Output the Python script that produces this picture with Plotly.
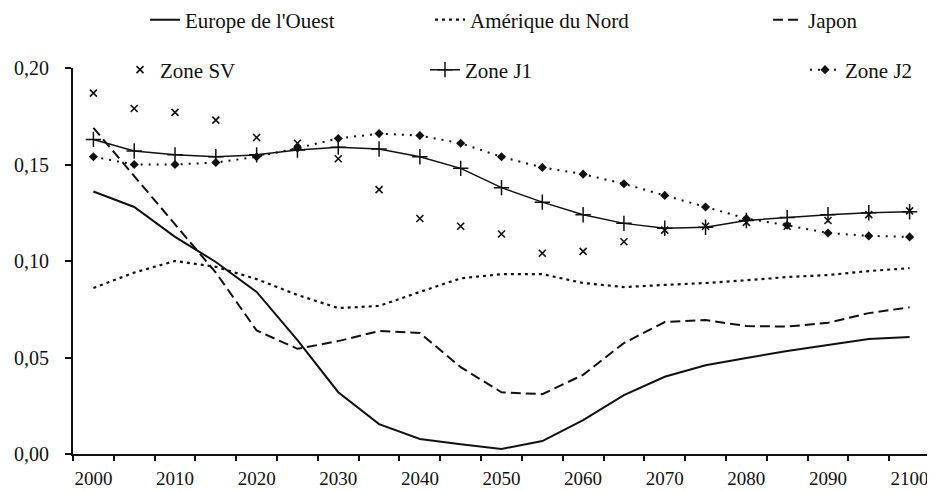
import plotly.graph_objects as go

years = list(range(2000, 2101, 5))

europe = [0.136, 0.128, 0.1125, 0.0995, 0.084, 0.059, 0.032, 0.0155, 0.0078, 0.005, 0.0026,
          0.0067, 0.0176, 0.0305, 0.040, 0.046, 0.0497, 0.0534, 0.0565, 0.0596, 0.0606]
amerique = [0.086, 0.094, 0.100, 0.097, 0.0906, 0.0824, 0.0756, 0.0767, 0.084, 0.091, 0.0932,
            0.0932, 0.0886, 0.0865, 0.0876, 0.0886, 0.090, 0.0917, 0.0927, 0.0948, 0.0963]
japon = [0.169, 0.144, 0.119, 0.094, 0.064, 0.0545, 0.0585, 0.0637, 0.0627, 0.045, 0.032,
         0.031, 0.041, 0.0575, 0.0684, 0.0694, 0.0663, 0.066, 0.068, 0.073, 0.076]
zone_sv = [0.187, 0.179, 0.177, 0.173, 0.164, 0.161, 0.153, 0.137, 0.122, 0.118, 0.114,
           0.104, 0.105, 0.110, 0.116, 0.118, 0.120, 0.118, 0.121, 0.124, 0.126]
zone_j1 = [0.163, 0.157, 0.155, 0.154, 0.155, 0.1575, 0.159, 0.158, 0.154, 0.148, 0.138,
           0.1305, 0.124, 0.1195, 0.117, 0.1175, 0.121, 0.1225, 0.124, 0.125, 0.1255]
zone_j2 = [0.154, 0.150, 0.150, 0.151, 0.154, 0.1585, 0.1635, 0.166, 0.165, 0.161, 0.154,
           0.1485, 0.145, 0.140, 0.134, 0.128, 0.122, 0.1185, 0.1145, 0.113, 0.1125]

x_tickvals = list(range(2000, 2101, 10))
x_ticktext = [str(v) for v in x_tickvals]
y_tickvals = [0.0, 0.05, 0.10, 0.15, 0.20]
y_ticktext = ["0,00", "0,05", "0,10", "0,15", "0,20"]

FONT = "Liberation Serif"
INK = "#111111"
W, H = 935, 491
OFF = 8  # page body margin

fig = go.Figure()

fig.add_trace(go.Scatter(x=years, y=europe, name="Europe de l'Ouest", mode="lines",
                         line=dict(color=INK, width=2), legend="legend"))
fig.add_trace(go.Scatter(x=years, y=amerique, name="Amérique du Nord", mode="lines",
                         line=dict(color=INK, width=2.2, dash="3px,4px"), legend="legend2"))
fig.add_trace(go.Scatter(x=years, y=japon, name="Japon", mode="lines",
                         line=dict(color=INK, width=2, dash="10px,5px"), legend="legend3"))
fig.add_trace(go.Scatter(x=years, y=zone_sv, name="Zone SV", mode="markers",
                         marker=dict(symbol="x-thin", size=7, color=INK,
                                     line=dict(color=INK, width=1.6)), legend="legend4"))
fig.add_trace(go.Scatter(x=years, y=zone_j1, name="Zone J1", mode="lines+markers",
                         line=dict(color=INK, width=1.5),
                         marker=dict(symbol="cross-thin", size=11, color=INK,
                                     line=dict(color=INK, width=1.5)), legend="legend5"))
fig.add_trace(go.Scatter(x=years, y=zone_j2, name="Zone J2", mode="lines+markers",
                         line=dict(color=INK, width=2, dash="2px,6px"),
                         marker=dict(symbol="diamond", size=7, color=INK), legend="legend6"))

def leg(text_x, y_px):
    return dict(xref="container", yref="container",
                x=(text_x - 40 - OFF) / W, y=1 - (y_px - 8) / H, xanchor="left", yanchor="middle",
                bgcolor="rgba(0,0,0,0)", borderwidth=0,
                font=dict(family=FONT, size=21, color=INK), itemclick=False)

fig.update_layout(
    width=W, height=H,
    margin=dict(l=73 - OFF, r=5 + OFF, t=68 - OFF, b=37 + OFF, autoexpand=False),
    paper_bgcolor="white", plot_bgcolor="white",
    font=dict(family=FONT, size=16, color=INK),
    showlegend=True,
    legend=leg(185, 20),
    legend2=leg(470, 20),
    legend3=leg(808, 20),
    legend4=leg(160, 70),
    legend5=leg(465, 70),
    legend6=leg(845, 70),
    xaxis=dict(range=[1997.5, 2102.5], showgrid=False, zeroline=False,
               showline=True, linecolor=INK, linewidth=2,
               tickvals=x_tickvals, ticktext=x_ticktext, ticks="",
               ticklabelstandoff=6,
               tickfont=dict(family=FONT, size=19, color=INK),
               minor=dict(tick0=1997.5, dtick=5, ticks="outside", ticklen=5,
                          tickcolor=INK, tickwidth=1.5, showgrid=False)),
    yaxis=dict(range=[0, 0.2], showgrid=False, zeroline=False,
               showline=True, linecolor=INK, linewidth=2,
               tickvals=y_tickvals, ticktext=y_ticktext, ticks="outside",
               ticklen=6, tickwidth=1.5, tickcolor=INK, ticklabelstandoff=12,
               tickfont=dict(family=FONT, size=20, color=INK)),
)

fig.write_html("out.html")
